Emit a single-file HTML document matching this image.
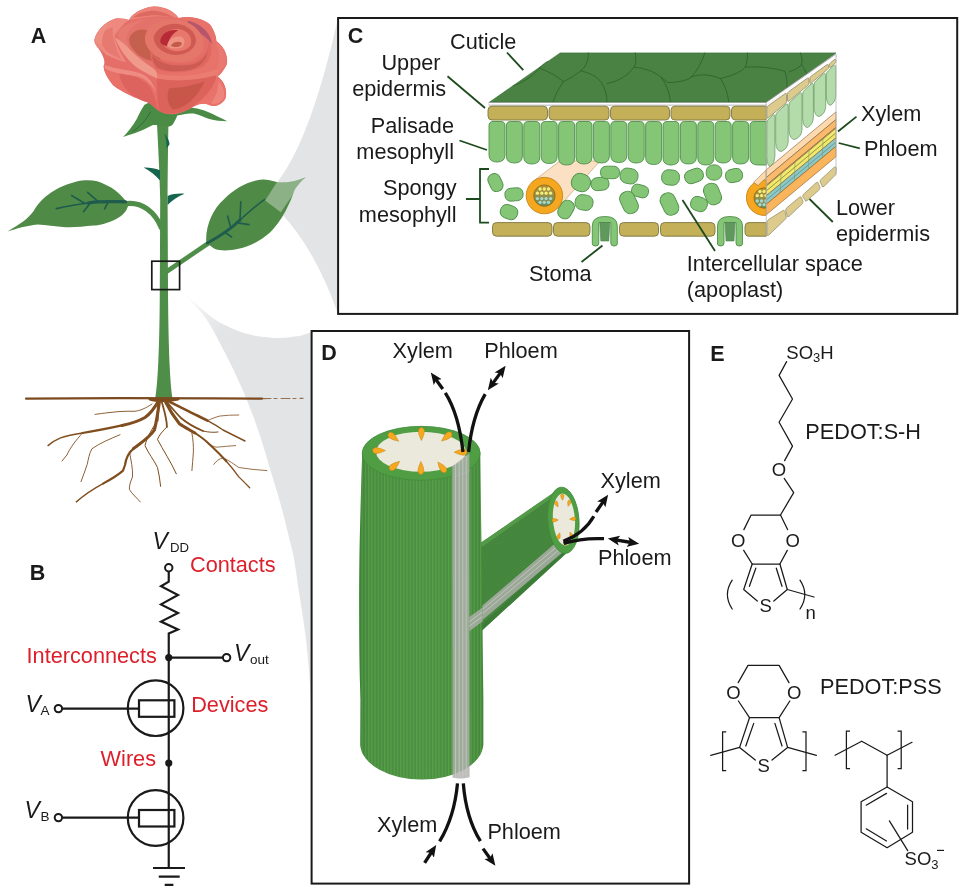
<!DOCTYPE html>
<html><head><meta charset="utf-8"><title>Figure</title>
<style>
html,body{margin:0;padding:0;background:#fff;}
svg{display:block;will-change:transform;}
text{font-family:"Liberation Sans",sans-serif;fill:#1a1a1a;}
.l{font-size:21.7px;}
.b{font-size:21.5px;font-weight:bold;}
.r{fill:#dc1f2a;}
.i{font-style:italic;}
.v{font-style:italic;font-size:23px;}
.ch{font-size:18.5px;}
</style></head><body>
<svg width="960" height="892" viewBox="0 0 960 892">
<rect width="960" height="892" fill="#ffffff"/>
<!-- cones -->
<defs>
<linearGradient id="coneFade" gradientUnits="userSpaceOnUse" x1="180" y1="290" x2="222" y2="332">
 <stop offset="0" stop-color="#e3e4e6" stop-opacity="0"/><stop offset="0.35" stop-color="#e3e4e6" stop-opacity="0.45"/><stop offset="1" stop-color="#e3e4e6" stop-opacity="1"/>
</linearGradient>
</defs>
<!-- upper cone -->
<path d="M278.5 180.4 Q311.3 137.3 338 18 L338 313.8 Q314.8 248.4 280.5 212.4 L265.2 200.4 Z" fill="#e3e4e6"/>
<!-- lower cone -->
<path d="M180 290 C183.1 292.7 191.9 300.7 198.3 306.0 C204.7 311.3 210.3 317.0 218.5 321.7 C226.7 326.4 238.3 331.3 247.6 334.0 C256.9 336.7 266.3 337.5 274.5 337.9 C282.7 338.3 290.8 337.2 297.0 336.3 C303.2 335.4 309.1 332.9 311.5 332.2 L311.5 709 C311.1 702.8 310.1 684.2 309.1 671.8 C308.1 659.4 306.9 646.9 305.4 634.5 C303.8 622.1 301.7 609.7 299.8 597.3 C297.9 584.9 295.9 569.7 294.2 560.0 C292.5 550.3 291.6 548.1 289.4 539.0 C287.2 529.9 284.1 516.6 281.0 505.4 C277.9 494.2 274.3 483.0 270.9 471.8 C267.5 460.6 264.7 449.8 260.8 438.0 C256.9 426.2 251.8 412.2 247.3 401.0 C242.8 389.8 238.4 380.3 233.9 370.8 C229.4 361.3 224.9 352.3 220.4 343.9 C215.9 335.5 211.5 327.0 207.0 320.3 C202.5 313.6 198.0 308.6 193.5 303.5 C189.0 298.4 182.2 292.2 180.0 290.0Z" fill="url(#coneFade)"/>

<!-- a -->
<g id="panelA">
<text class="b" x="30.8" y="43.4">A</text>
<defs>
 <filter id="bl1" x="-20%" y="-20%" width="140%" height="140%"><feGaussianBlur stdDeviation="1.6"/></filter>
 <filter id="bl2" x="-20%" y="-20%" width="140%" height="140%"><feGaussianBlur stdDeviation="0.8"/></filter>
 <clipPath id="leafRClip"><path d="M206.3 242.8 C205 227 212.5 209 224 199.2 C234 189 249 180.6 262.5 179.6 C270 179.2 275 182.5 281 182.6 C290 182.6 298 180.5 305.6 177.2 C301 181 297 186 294.6 189.8 C292.5 196 290.5 201.5 287 208 C283.5 215.5 278 224.5 270 232.5 C261 240.5 249.5 246.8 238.5 248.8 C229 251 220 251.2 214 248.5Z"/></clipPath>
</defs>
<!-- petioles & stem -->
<g fill="none" stroke="#4f8e48" stroke-linecap="round">
 <path d="M127 203.6 C142 202 155 212 161.5 228" stroke-width="5.2"/>
 <path d="M166 272 L208 243.5" stroke-width="4.6"/>
</g>
<path d="M157 124 L168.4 124 C168 150 167.6 180 167.6 200 L168 290 C168.4 340 169.5 380 172.6 399 L155.2 399 C158.4 380 159.6 340 159.8 290 L160.2 200 C159.6 170 158 145 157 124Z" fill="#4f8e48"/>
<!-- thorns -->
<g fill="#15654f">
 <path d="M164.4 133.5 C167.5 137 169.4 141 169.6 144.2 L166.6 148.4 C166.8 143 165.8 138 164.4 133.5Z"/>
 <path d="M143.6 167.6 C149 167.4 155 168.2 160 170.2 L160 180.4 C155.5 175.5 150 170.8 143.6 167.6Z"/>
 <path d="M184.6 193.8 C179 193.2 172.5 194 167.6 196 L167.6 205 C172 200.5 177.5 196.6 184.6 193.8Z"/>
</g>
<!-- left leaf -->
<path d="M7.5 231.6 C20 224 28 219 34 210.5 C40 200 52 188 75 181.9 C88 179 98 180.5 104 184 C114 188 122 195 128.4 204.6 C127 212 122 216 116.2 219 C108 223 100 225.5 93.7 225.6 C84 226.5 72 227.8 65.6 227.2 C55 226.5 46 224.5 37.5 224.4 C27 225.5 16 228.5 7.5 231.6Z" fill="#4f8b46"/>
<g fill="none" stroke="#1f5c4e" stroke-linecap="round">
 <path d="M125.6 201.8 C110 201.6 98 201 88 203" stroke-width="3.2"/>
 <path d="M88 203 C76 204.5 66 206.5 56.3 208.6" stroke-width="1.7"/>
 <path d="M97 200.6 L87.6 192.4 M85 203.6 L71.6 195.6" stroke-width="1.7"/>
 <path d="M108 202.4 L104.6 208.8 M90 203.4 L83.6 211.6" stroke-width="1.7"/>
</g>
<!-- right leaf -->
<path d="M206.3 242.8 C205 227 212.5 209 224 199.2 C234 189 249 180.6 262.5 179.6 C270 179.2 275 182.5 281 182.6 C290 182.6 298 180.5 305.6 177.2 C301 181 297 186 294.6 189.8 C292.5 196 290.5 201.5 287 208 C283.5 215.5 278 224.5 270 232.5 C261 240.5 249.5 246.8 238.5 248.8 C229 251 220 251.2 214 248.5Z" fill="#4f8b46"/>
<g fill="none" stroke="#1f5c4e" stroke-linecap="round">
 <path d="M207.5 243 C222 235 232 228 240 220" stroke-width="3"/>
 <path d="M240 220 C250 211 258 204 264.4 199.6" stroke-width="1.6"/>
 <path d="M230.6 227.2 L227.6 216 M240 219.6 L240.8 201.8" stroke-width="1.6"/>
 <path d="M224.6 232 L231.6 237 M236 222.6 L249 224.6" stroke-width="1.6"/>
</g>
<g clip-path="url(#leafRClip)"><path d="M265.2 200.4 L277.2 181.8 L310 170 L280.8 212.2Z" fill="#e4e6e2" opacity="0.42"/></g>
<!-- calyx -->
<path d="M144.5 104.8 C141 110 139 114 137 118.6 C133 126 128 132 123.1 136.9 C129 134.6 134 133.4 139 131.4 C144 129.6 149 127 153 125 L157 125 L168 126.8 C171 126.4 172.6 125 173.4 123.6 C175 120.6 176.6 118 177.3 115.6 C183 114 188 113.4 193.8 113.4 C200 115 204.6 117.6 209.4 118.9 C215 120.4 221 121 227.3 121.3 C221 118 214 114.6 208 112 C203 110 198.6 108.6 193.8 108 L177 106 L150 102Z" fill="#4a8b45"/>
<path d="M150.4 112 C146 120 140 127 133 131" fill="none" stroke="#2e6e3c" stroke-width="1" stroke-linecap="round"/>
<!-- flower -->
<g transform="translate(88 0) scale(0.15625)">
<defs>
 <filter id="rb" x="-10%" y="-10%" width="120%" height="120%"><feGaussianBlur stdDeviation="4"/></filter>
 <filter id="rb2" x="-10%" y="-10%" width="120%" height="120%"><feGaussianBlur stdDeviation="9"/></filter>
 <clipPath id="roseClip"><path d="M40 255 C55 195 110 140 170 120 C200 112 240 120 262 128 C285 85 340 52 420 40 C500 42 555 78 580 115 C640 100 725 112 780 155 C812 200 822 240 822 262 C870 300 897 350 890 410 C870 450 848 478 830 490 C870 520 894 570 880 630 C856 672 810 690 770 670 C748 660 715 662 680 680 C640 705 590 730 540 733 C500 733 470 722 440 700 C420 682 400 664 380 655 C300 625 220 592 160 545 C118 492 98 450 100 420 C112 395 100 365 80 330 C60 300 38 280 40 255Z"/></clipPath>
</defs>
<g clip-path="url(#roseClip)">
 <rect x="0" y="0" width="960" height="768" fill="#e56e68"/>
 <g filter="url(#rb)">
  <!-- outer-left petal -->
  <path d="M40 255 C55 195 110 140 170 120 C200 115 240 122 262 128 C230 150 190 190 170 235 C180 290 215 350 245 400 C200 385 150 365 115 350 C85 320 45 290 40 255Z" fill="#ed897f"/>
  <path d="M80 230 C100 200 130 180 160 175 C150 220 170 300 215 380 C170 360 130 340 110 320 C95 295 80 265 80 230Z" fill="#e67a71"/>
  <path d="M45 250 C60 205 100 160 150 135 C110 180 85 230 90 290 C70 280 50 268 45 250Z" fill="#ee8f84"/>
  <!-- lower-left petal -->
  <path d="M100 420 C150 440 260 450 330 470 C400 500 440 580 455 715 C420 690 400 665 380 655 C300 625 220 592 160 545 C118 492 98 450 100 420Z" fill="#e8716b"/>
  <path d="M200 470 C280 480 360 500 400 560 C430 620 440 670 450 712 C400 670 330 640 270 600 C230 560 205 515 200 470Z" fill="#dd645e"/>
  <path d="M105 415 C160 440 260 448 335 468 C390 490 425 540 440 600 C410 540 370 505 320 490 C250 475 160 470 110 440Z" fill="#ee8b82"/>
  <!-- inside-left petal -->
  <path d="M170 235 C190 180 260 135 340 120 C400 108 470 112 520 125 C440 140 390 180 370 240 C380 320 420 380 480 420 C420 440 340 420 300 400 C240 350 185 295 170 235Z" fill="#e3736a"/>
  <path d="M262 250 C280 200 330 178 380 195 C385 260 420 330 470 385 C430 400 365 385 322 352 C290 322 262 290 262 250Z" fill="#c5604f"/>
  <path d="M190 200 C230 160 300 135 360 128 C300 150 255 190 245 240 C250 290 275 340 310 385 C260 345 215 295 195 250Z" fill="#e77a70"/>
  <!-- top petal -->
  <path d="M262 128 C285 85 340 52 420 40 C500 42 555 78 580 115 C540 108 480 100 420 105 C360 110 300 122 262 128Z" fill="#ec8278"/>
  <path d="M290 110 C330 80 390 65 440 70 C490 78 530 98 555 115 C500 100 440 95 390 100 C350 104 315 110 290 110Z" fill="#dd6a61"/>
  <!-- right petal -->
  <path d="M580 115 C640 100 725 112 780 155 C812 200 822 240 822 262 C870 300 897 350 890 410 C870 450 848 478 800 500 C720 525 600 530 450 475 C560 475 680 450 760 400 C800 350 800 280 770 220 C730 160 650 130 580 115Z" fill="#e8736b"/>
  <path d="M640 132 C725 150 790 215 795 285 C765 240 715 205 650 180 C640 165 636 148 640 132Z" fill="#b7566b"/>
  <path d="M822 270 C862 305 885 350 880 405 C860 445 835 470 800 488 C835 440 845 380 835 330Z" fill="#ea7a71"/>
  <!-- ring 1 -->
  <path d="M365 230 C380 170 450 130 540 125 C640 125 720 180 740 260 C750 330 700 380 620 395 C530 405 440 380 400 330 C375 300 360 265 365 230Z" fill="#e5766b"/>
  <path d="M420 235 C440 180 500 152 560 152 C630 156 690 200 692 262 C682 322 620 352 560 352 C480 346 420 300 420 235Z" fill="#cf5a52"/>
  <path d="M470 250 C480 210 530 182 580 186 C640 196 672 240 656 290 C630 332 560 336 520 316 C480 296 465 275 470 250Z" fill="#e8776c"/>
  <path d="M462 265 C468 212 520 185 578 194 C542 216 517 246 508 296 C484 290 462 280 462 265Z" fill="#b82c34"/>
  <path d="M506 292 C516 250 550 226 600 236 C626 250 620 290 596 306 C560 316 520 310 506 292Z" fill="#ef9485"/>
  <path d="M530 292 C545 266 580 260 602 276 C596 302 556 308 530 292Z" fill="#c25c48"/>
  <!-- band below ring -->
  <path d="M400 330 C440 400 560 422 680 396 C740 372 770 322 770 262 C800 300 792 380 742 422 C650 472 520 472 440 442 C410 412 395 370 400 330Z" fill="#df6860"/>
  <path d="M410 350 C450 410 560 435 680 410 C720 395 750 370 765 330 C760 385 720 425 660 445 C570 465 480 455 440 430 C420 405 412 378 410 350Z" fill="#cc5b53"/>
  <!-- fold highlight -->
  <path d="M172 240 C195 300 240 372 300 422 C340 452 400 482 442 502 C456 482 440 455 410 432 C360 400 300 350 262 310 C232 280 200 255 172 240Z" fill="#f09a8c"/>
  <!-- front rim -->
  <path d="M440 470 C560 500 700 490 830 440 C835 460 832 478 826 492 C700 530 560 535 442 505Z" fill="#ea7c72"/>
  <!-- front lower petal -->
  <path d="M440 502 C560 525 700 515 822 482 C810 560 740 640 640 700 C580 730 500 736 455 712 C440 640 445 560 440 502Z" fill="#dc625c"/>
  <path d="M520 565 C600 562 680 545 745 520 C705 620 625 690 545 702 C500 662 505 602 520 565Z" fill="#c8574a"/>
  <!-- right lower petal -->
  <path d="M830 490 C870 520 894 570 880 630 C856 672 810 690 770 670 C742 660 705 665 660 692 C740 642 800 572 830 490Z" fill="#e9726b"/>
  <path d="M835 520 C865 550 878 590 868 630 C845 660 815 672 785 660 C820 620 835 570 835 520Z" fill="#ee857b"/>
 </g>
</g>
</g>

<!-- ground + roots -->
<g fill="none" stroke="#7b4a1f" stroke-linecap="round" stroke-linejoin="round">
 <path d="M26 398.6 L120 398.2 L215 398.4 L262 398.6" stroke-width="2.3"/>
 <path d="M262 398.6 L303 398.4" stroke-width="1.1" stroke-dasharray="9 3 3 4" opacity="0.75"/>
 <path d="M150 399 C156 401 168 401 178 399" stroke-width="3"/>
 <g stroke="#7f4d1e">
 <path d="M158.5 401 C154 409 150 414 145 417.5 C138 421.5 130 423.8 122 425.4" stroke-width="3.1"/>
 <path d="M122 425.4 C110 428 96 430.8 82.5 433" stroke-width="2.2"/>
 <path d="M82.5 433 C74 434.5 66 436 60.6 437.8 C55 440 51 443 48 445.6" stroke-width="1.4"/>
 <path d="M82.5 433 C76 440 70 448 66.9 455 L62 461" stroke-width="0.9"/>
 <path d="M159.5 401 C158 412 156.5 422 154.4 430 C150 437 141 443 133.5 448.6" stroke-width="3.1"/>
 <path d="M133.5 448.6 C129.4 451.9 126 458 125 465 L123 470.6 C117 476 110 479.8 103 483.6" stroke-width="2.2"/>
 <path d="M103 483.6 C93 489 83 496 76.3 501.9" stroke-width="1.4"/>
 <path d="M129.4 451.9 C131 460 133 469 132.5 476.9 C131 481 129 485 129.4 489.4 C132 494 137 498 140.3 501.9" stroke-width="0.9"/>
 <path d="M120 434.7 C110 439 100 443 91.9 448.8 C89 454 88.5 459 87.2 464.4 C85.5 470 83 476 81 481.6" stroke-width="0.9"/>
 <path d="M158.5 404 C157.5 410 158 416 157.5 420.6" stroke-width="2"/>
 <path d="M157.5 420.6 C152 429 147 437 145 445.6 C148 453 154 460 157.5 467.5 C159 474 160 480 160.6 486.3" stroke-width="1"/>
 <path d="M161.5 401 C164 410 167 419 166.9 426.9" stroke-width="1.8"/>
 <path d="M166.9 426.9 C163 431 159 435 157.5 439.4 C163 450 171 462 176.3 473.8" stroke-width="1"/>
 <path d="M165 401 C169 409 174 417 179.4 423.8 C184 427 190 430 195 433" stroke-width="3"/>
 <path d="M195 433 C199.5 436 204 439 207.5 442.5 C214 448.5 221 455 226.3 461.3" stroke-width="2.1"/>
 <path d="M226.3 461.3 C231 466.5 235 471.5 238.8 476.9 C242.5 480.5 246.5 484.5 249.7 487.8" stroke-width="1.3"/>
 <path d="M167 400.5 C174 404 182 408 188.8 411.3 C195 414.5 201.5 417.5 207.5 420.6" stroke-width="2.6"/>
 <path d="M207.5 420.6 C213 423.5 218 426.5 223 430 C230 433.5 238 437.5 245 441" stroke-width="1.4"/>
 <path d="M166 401 C171 407 176 413 181 418 C188 424 196 428 203 431" stroke-width="1.8"/>
 <path d="M203 431 C209 432.5 214 432.5 218 432" stroke-width="1"/>
 <path d="M207.5 420.6 C212 418.5 216 417 220 416 C226 415.2 233 415 238.8 415" stroke-width="0.8"/>
 <path d="M191.9 433 C193 439 193.6 446 193.4 451.9 C193 458 192.4 465 191.9 470.6" stroke-width="0.9"/>
 <path d="M152 404 C146 408 140 411 134 411.3 C126 411 118 411.5 110 412.5 C104 413.2 99 413.8 95 414.4" stroke-width="0.9"/>
 <path d="M213.8 464.4 C216 461 219.5 458.5 223 458 C229 460 234 464.5 238.8 467.5 C248 469 258 470 266.9 470.6" stroke-width="0.8"/>
 <path d="M207.5 442.5 C211 445.5 214 447 216.9 447.2 C223 446.5 230 446 235.6 445.6" stroke-width="0.8"/>
 </g>
</g>
<!-- selection box -->
<rect x="151.8" y="261.2" width="27.8" height="28.4" fill="none" stroke="#1a1a1a" stroke-width="1.7"/>
</g>

<!-- b -->
<g id="panelB">
<text class="b" x="29.7" y="579.5">B</text>
<g fill="none" stroke="#1a1a1a" stroke-width="2.2" stroke-linejoin="miter">
  <!-- main wire -->
  <path d="M168.75 571.5 V581.6 L161 586.2 L178 595 L161 604.4 L178 613.1 L161 621.6 L178 629.4 L168.75 633.5 V868"/>
  <path d="M168.75 657.6 H223"/>
  <path d="M62 708.6 H139"/>
  <path d="M62 817.6 H139"/>
  <circle cx="155.6" cy="708.2" r="27.8"/>
  <circle cx="155.6" cy="818" r="27.8"/>
  <rect x="139" y="700.3" width="35.4" height="16.5"/>
  <rect x="139" y="810" width="35.4" height="16.5"/>
  <path d="M153 868 H185 M158.75 876.6 H179.7 M164.7 884.8 H173.4"/>
</g>
<g fill="#fff" stroke="#1a1a1a" stroke-width="2">
  <circle cx="168.75" cy="567.8" r="3.7"/>
  <circle cx="226.6" cy="657.6" r="3.7"/>
  <circle cx="58.4" cy="708.6" r="3.7"/>
  <circle cx="58.4" cy="817.6" r="3.7"/>
</g>
<circle cx="168.75" cy="657.6" r="3.6" fill="#1a1a1a"/>
<circle cx="168.75" cy="763.1" r="3.6" fill="#1a1a1a"/>
<text class="v" x="152.6" y="549">V</text><text x="170" y="552.2" font-size="13.2">DD</text>
<text class="v" x="234" y="661.4">V</text><text x="250" y="664.2" font-size="13.5">out</text>
<text class="v" x="25.4" y="712">V</text><text x="40.6" y="715.4" font-size="13.5">A</text>
<text class="v" x="24.4" y="817.6">V</text><text x="40.6" y="821.2" font-size="13.5">B</text>
<text class="l r" x="190" y="571.6">Contacts</text>
<text class="l r" x="26.6" y="663">Interconnects</text>
<text class="l r" x="191.2" y="712">Devices</text>
<text class="l r" x="100.6" y="765.5">Wires</text>
</g>

<!-- c -->
<g id="panelC">
<rect x="338.1" y="18" width="619.1" height="295.9" fill="#fff" stroke="#1a1a1a" stroke-width="2"/>
<text class="b" x="347.8" y="43.4">C</text>
<path d="M531.5 182.5 L560 161 L600 161 L557.5 208.5 Z" fill="#fce0c4" stroke="#c9a27a" stroke-width="0.7"/>
<path d="M489.4 102.2 L560.2 52.9 L836 52.9 L766.3 102.2 Z" fill="#4a8244" stroke="#2f6a2e" stroke-width="0.6"/>
<g fill="none" stroke="#2b6128" stroke-width="0.8" stroke-linecap="round">
<path d="M539.4 68.1 Q555 74 563.3 81.7 Q556 92 552.9 102"/>
<path d="M588.3 52.9 Q589 64 581 70.8 Q572 78 563.3 81.7"/>
<path d="M581 70.8 Q595 74 600.8 81.7 Q607 91 607 102"/>
<path d="M635.2 52.9 Q637 62 634.2 67 Q625 80 607 83.7"/>
<path d="M634.2 67 Q652 69 661.3 77.5 Q669 88 670.6 102"/>
<path d="M661.3 77.5 Q666 81 668 82.7 Q685 82 691 77.5 Q700 68 704.8 53"/>
<path d="M691 76.8 Q705 72 720.4 78.5 Q727 88 728.8 102"/>
<path d="M720.4 78.5 Q740 74 745.4 67 Q748 60 747.5 53"/>
<path d="M745.4 67 Q768 66 785 71.3 Q788 80 787 88"/>
<path d="M800.6 53 Q803 60 801.7 65 Q796 70 789 72"/>
<path d="M801.7 65 Q805 69 806.5 73.5"/>
<path d="M513 86 Q530 80 539.4 68.1 Q545 62 548 61.5"/>
</g>
<path d="M488.6 103.9 L766.3 103.9 L836 55.4" fill="none" stroke="#9b9b9b" stroke-width="3.2" stroke-linejoin="miter"/>
<path d="M488.6 103.9 L766.3 103.9 L836 55.4" fill="none" stroke="#ffffff" stroke-width="1.8" stroke-linejoin="miter"/>
<path d="M766.3 105 L836 55.7 L836 174 L766.3 236.3 Z" fill="#fff"/>
<rect x="488" y="106.2" width="59.5" height="13.8" rx="4" ry="4" fill="#c3b058" stroke="#7d7742" stroke-width="0.9"/>
<rect x="549" y="106.2" width="60" height="13.8" rx="4" ry="4" fill="#c3b058" stroke="#7d7742" stroke-width="0.9"/>
<rect x="610.5" y="106.2" width="59.0" height="13.8" rx="4" ry="4" fill="#c3b058" stroke="#7d7742" stroke-width="0.9"/>
<rect x="671" y="106.2" width="59" height="13.8" rx="4" ry="4" fill="#c3b058" stroke="#7d7742" stroke-width="0.9"/>
<path d="M735.5 106.2 H766.3 V120 H735.5 Q731.5 120 731.5 116 V110 Q731.5 106.2 735.5 106.2Z" fill="#c3b058" stroke="#7d7742" stroke-width="0.9"/>
<path d="M493.0 121.5 H501.0 Q505.0 121.5 505.0 126 V155 Q505.0 162 497.0 162 Q489.0 162 489.0 155 V126 Q489.0 121.5 493.0 121.5Z" fill="#84c676" stroke="#4f8f4a" stroke-width="0.9"/>
<path d="M510.4 121.5 H518.4 Q522.4 121.5 522.4 126 V156 Q522.4 163 514.4 163 Q506.4 163 506.4 156 V126 Q506.4 121.5 510.4 121.5Z" fill="#84c676" stroke="#4f8f4a" stroke-width="0.9"/>
<path d="M527.8 121.5 H535.8 Q539.8 121.5 539.8 126 V157 Q539.8 164 531.8 164 Q523.8 164 523.8 157 V126 Q523.8 121.5 527.8 121.5Z" fill="#84c676" stroke="#4f8f4a" stroke-width="0.9"/>
<path d="M545.2 121.5 H553.2 Q557.2 121.5 557.2 126 V156.5 Q557.2 163.5 549.2 163.5 Q541.2 163.5 541.2 156.5 V126 Q541.2 121.5 545.2 121.5Z" fill="#84c676" stroke="#4f8f4a" stroke-width="0.9"/>
<path d="M562.6 121.5 H570.6 Q574.6 121.5 574.6 126 V158 Q574.6 165 566.6 165 Q558.6 165 558.6 158 V126 Q558.6 121.5 562.6 121.5Z" fill="#84c676" stroke="#4f8f4a" stroke-width="0.9"/>
<path d="M580.0 121.5 H588.0 Q592.0 121.5 592.0 126 V157 Q592.0 164 584.0 164 Q576.0 164 576.0 157 V126 Q576.0 121.5 580.0 121.5Z" fill="#84c676" stroke="#4f8f4a" stroke-width="0.9"/>
<path d="M597.4 121.5 H605.4 Q609.4 121.5 609.4 126 V156 Q609.4 163 601.4 163 Q593.4 163 593.4 156 V126 Q593.4 121.5 597.4 121.5Z" fill="#84c676" stroke="#4f8f4a" stroke-width="0.9"/>
<path d="M614.8 121.5 H622.8 Q626.8 121.5 626.8 126 V155.5 Q626.8 162.5 618.8 162.5 Q610.8 162.5 610.8 155.5 V126 Q610.8 121.5 614.8 121.5Z" fill="#84c676" stroke="#4f8f4a" stroke-width="0.9"/>
<path d="M632.2 121.5 H640.2 Q644.2 121.5 644.2 126 V156 Q644.2 163 636.2 163 Q628.2 163 628.2 156 V126 Q628.2 121.5 632.2 121.5Z" fill="#84c676" stroke="#4f8f4a" stroke-width="0.9"/>
<path d="M649.6 121.5 H657.6 Q661.6 121.5 661.6 126 V157.5 Q661.6 164.5 653.6 164.5 Q645.6 164.5 645.6 157.5 V126 Q645.6 121.5 649.6 121.5Z" fill="#84c676" stroke="#4f8f4a" stroke-width="0.9"/>
<path d="M667.0 121.5 H675.0 Q679.0 121.5 679.0 126 V158 Q679.0 165 671.0 165 Q663.0 165 663.0 158 V126 Q663.0 121.5 667.0 121.5Z" fill="#84c676" stroke="#4f8f4a" stroke-width="0.9"/>
<path d="M684.4 121.5 H692.4 Q696.4 121.5 696.4 126 V157 Q696.4 164 688.4 164 Q680.4 164 680.4 157 V126 Q680.4 121.5 684.4 121.5Z" fill="#84c676" stroke="#4f8f4a" stroke-width="0.9"/>
<path d="M701.8 121.5 H709.8 Q713.8 121.5 713.8 126 V158 Q713.8 165 705.8 165 Q697.8 165 697.8 158 V126 Q697.8 121.5 701.8 121.5Z" fill="#84c676" stroke="#4f8f4a" stroke-width="0.9"/>
<path d="M719.2 121.5 H727.2 Q731.2 121.5 731.2 126 V156 Q731.2 163 723.2 163 Q715.2 163 715.2 156 V126 Q715.2 121.5 719.2 121.5Z" fill="#84c676" stroke="#4f8f4a" stroke-width="0.9"/>
<path d="M736.6 121.5 H744.6 Q748.6 121.5 748.6 126 V157 Q748.6 164 740.6 164 Q732.6 164 732.6 157 V126 Q732.6 121.5 736.6 121.5Z" fill="#84c676" stroke="#4f8f4a" stroke-width="0.9"/>
<path d="M754.0 121.5 H766.3 V165 H758.0 Q750.0 165 750.0 158 V126 Q750.0 121.5 754.0 121.5Z" fill="#84c676" stroke="#4f8f4a" stroke-width="0.9"/>
<rect x="489.2" y="173.4" width="12.5" height="18.2" rx="5.6" ry="5.6" transform="rotate(-25 495.5 182.5)" fill="#84c676" stroke="#4f8f4a" stroke-width="0.9"/>
<rect x="504.9" y="188.0" width="18.2" height="12.9" rx="5.8" ry="5.8" transform="rotate(-5 514 194.5)" fill="#84c676" stroke="#4f8f4a" stroke-width="0.9"/>
<rect x="500.3" y="205.2" width="17.5" height="13.7" rx="6.2" ry="6.2" transform="rotate(20 509 212)" fill="#84c676" stroke="#4f8f4a" stroke-width="0.9"/>
<rect x="559.2" y="200.0" width="13.7" height="19.0" rx="6.2" ry="6.2" transform="rotate(30 566 209.5)" fill="#84c676" stroke="#4f8f4a" stroke-width="0.9"/>
<rect x="575.1" y="194.9" width="17.9" height="15.2" rx="6.8" ry="6.8" transform="rotate(10 584 202.5)" fill="#84c676" stroke="#4f8f4a" stroke-width="0.9"/>
<rect x="571.5" y="173.8" width="19.0" height="17.5" rx="7.9" ry="7.9" transform="rotate(20 581 182.5)" fill="#84c676" stroke="#4f8f4a" stroke-width="0.9"/>
<rect x="591.1" y="177.5" width="17.9" height="12.9" rx="5.8" ry="5.8" transform="rotate(-5 600 184)" fill="#84c676" stroke="#4f8f4a" stroke-width="0.9"/>
<rect x="600.5" y="166.2" width="19.0" height="12.5" rx="5.6" ry="5.6" transform="rotate(0 610 172.5)" fill="#84c676" stroke="#4f8f4a" stroke-width="0.9"/>
<rect x="620.1" y="168.4" width="17.9" height="15.2" rx="6.8" ry="6.8" transform="rotate(10 629 176)" fill="#84c676" stroke="#4f8f4a" stroke-width="0.9"/>
<rect x="631.5" y="184.9" width="17.1" height="12.2" rx="5.5" ry="5.5" transform="rotate(15 640 191)" fill="#84c676" stroke="#4f8f4a" stroke-width="0.9"/>
<rect x="621.4" y="191.1" width="15.2" height="22.8" rx="6.8" ry="6.8" transform="rotate(-25 629 202.5)" fill="#84c676" stroke="#4f8f4a" stroke-width="0.9"/>
<rect x="661.6" y="169.9" width="17.9" height="15.2" rx="6.8" ry="6.8" transform="rotate(5 670.5 177.5)" fill="#84c676" stroke="#4f8f4a" stroke-width="0.9"/>
<rect x="661.9" y="192.6" width="15.2" height="22.8" rx="6.8" ry="6.8" transform="rotate(-25 669.5 204)" fill="#84c676" stroke="#4f8f4a" stroke-width="0.9"/>
<rect x="684.5" y="169.3" width="19.0" height="13.3" rx="6.0" ry="6.0" transform="rotate(-20 694 176)" fill="#84c676" stroke="#4f8f4a" stroke-width="0.9"/>
<rect x="690.6" y="197.0" width="16.7" height="14.1" rx="6.3" ry="6.3" transform="rotate(20 699 204)" fill="#84c676" stroke="#4f8f4a" stroke-width="0.9"/>
<rect x="706.2" y="164.9" width="15.6" height="15.2" rx="6.8" ry="6.8" transform="rotate(0 714 172.5)" fill="#84c676" stroke="#4f8f4a" stroke-width="0.9"/>
<rect x="704.9" y="183.1" width="15.2" height="21.8" rx="6.8" ry="6.8" transform="rotate(-22 712.5 194)" fill="#84c676" stroke="#4f8f4a" stroke-width="0.9"/>
<rect x="725.5" y="168.9" width="17.1" height="13.3" rx="6.0" ry="6.0" transform="rotate(-12 734 175.6)" fill="#84c676" stroke="#4f8f4a" stroke-width="0.9"/>
<defs><linearGradient id="bgr" x1="0" x2="0" y1="0" y2="1"><stop offset="0" stop-color="#b8922e"/><stop offset="0.5" stop-color="#93904a"/><stop offset="1" stop-color="#668c5c"/></linearGradient></defs>
<circle cx="544.4" cy="195.6" r="18.2" fill="#f6a720" stroke="#c48318" stroke-width="0.9"/>
<circle cx="544.4" cy="195.6" r="10.7" fill="url(#bgr)" stroke="#8f6c1a" stroke-width="0.9"/>
<circle cx="540.1" cy="189.0" r="1.65" fill="#f6ef80"/>
<circle cx="544.3" cy="189.0" r="1.65" fill="#f6ef80"/>
<circle cx="548.5" cy="189.0" r="1.65" fill="#f6ef80"/>
<circle cx="537.4" cy="193.2" r="1.65" fill="#f6ef80"/>
<circle cx="541.8" cy="193.2" r="1.65" fill="#f6ef80"/>
<circle cx="546.1" cy="193.2" r="1.65" fill="#f6ef80"/>
<circle cx="550.6" cy="193.2" r="1.65" fill="#f6ef80"/>
<circle cx="537.4" cy="198.6" r="1.65" fill="#a4d8d4"/>
<circle cx="541.8" cy="198.6" r="1.65" fill="#a4d8d4"/>
<circle cx="546.1" cy="198.6" r="1.65" fill="#a4d8d4"/>
<circle cx="550.6" cy="198.6" r="1.65" fill="#a4d8d4"/>
<circle cx="540.1" cy="202.3" r="1.65" fill="#a4d8d4"/>
<circle cx="544.3" cy="202.3" r="1.65" fill="#a4d8d4"/>
<circle cx="548.5" cy="202.3" r="1.65" fill="#a4d8d4"/>
<rect x="492.5" y="222.6" width="59.5" height="13.6" rx="4" ry="4" fill="#c3b058" stroke="#7d7742" stroke-width="0.9"/>
<rect x="553.5" y="222.6" width="36.5" height="13.6" rx="4" ry="4" fill="#c3b058" stroke="#7d7742" stroke-width="0.9"/>
<rect x="619.5" y="222.6" width="39.0" height="13.6" rx="4" ry="4" fill="#c3b058" stroke="#7d7742" stroke-width="0.9"/>
<rect x="660.5" y="222.6" width="54.5" height="13.6" rx="4" ry="4" fill="#c3b058" stroke="#7d7742" stroke-width="0.9"/>
<path d="M749 222.6 H766.3 V236.2 H749 Q745 236.2 745 232 V226.6 Q745 222.6 749 222.6Z" fill="#c3b058" stroke="#7d7742" stroke-width="0.9"/>
<path d="M592.3 244 V226 Q592.3 216.5 604.8 216.5 Q617.3 216.5 617.3 226 V244 Q617.3 246 613.8 246 Q610.8 246 610.8 243 V222.5 H598.8 V243 Q598.8 246 595.8 246 Q592.3 246 592.3 244Z" fill="#84c676" stroke="#4f8f4a" stroke-width="0.9"/>
<path d="M599.8 222.5 H609.8 L608.8 241 H600.8Z" fill="#5f9a5c" stroke="#4b7f4a" stroke-width="0.6"/>
<path d="M717.5 244 V226 Q717.5 216.5 730.0 216.5 Q742.5 216.5 742.5 226 V244 Q742.5 246 739.0 246 Q736.0 246 736.0 243 V222.5 H724.0 V243 Q724.0 246 721.0 246 Q717.5 246 717.5 244Z" fill="#84c676" stroke="#4f8f4a" stroke-width="0.9"/>
<path d="M725.0 222.5 H735.0 L734.0 241 H726.0Z" fill="#5f9a5c" stroke="#4b7f4a" stroke-width="0.6"/>
<path d="M766.8 108.7 Q766.8 106.5 768.4 105.6 L785.0 93.7 Q786.6 92.8 786.6 94.4 L786.6 101.2 Q786.6 102.8 785.0 103.9 L768.4 117.7 Q766.8 118.8 766.8 117.2Z" fill="#dccb8d" stroke="#8f8a6a" stroke-width="0.8"/>
<path d="M787.5 94.4 Q787.5 92.2 789.1 91.3 L807.4 78.2 Q809.0 77.3 809.0 78.9 L809.0 83.0 Q809.0 84.6 807.4 85.7 L789.1 100.9 Q787.5 102.0 787.5 100.4Z" fill="#dccb8d" stroke="#8f8a6a" stroke-width="0.8"/>
<path d="M809.9 78.9 Q809.9 76.7 811.5 75.8 L826.9 64.8 Q828.5 63.9 828.5 65.5 L828.5 67.2 Q828.5 68.8 826.9 69.9 L811.5 82.8 Q809.9 83.9 809.9 82.3Z" fill="#dccb8d" stroke="#8f8a6a" stroke-width="0.8"/>
<path d="M829.3 65.5 Q829.3 63.3 830.9 62.4 L834.4 59.6 Q836.0 58.7 836.0 60.3 L836.0 61.1 Q836.0 62.7 834.4 63.8 L830.9 67.1 Q829.3 68.2 829.3 66.6Z" fill="#dccb8d" stroke="#8f8a6a" stroke-width="0.8"/>
<path d="M766.8 123.4 Q766.8 120.4 769.0 118.8 L772.7 115.0 Q774.9 113.8 774.9 116.8 L774.9 156.5 Q774.6 163.5 770.4 166.5 Q767.4 166.5 766.8 157.5Z" fill="#b4dcaa" stroke="#6f9a68" stroke-width="0.8"/>
<path d="M775.7 116.2 Q775.7 113.2 777.9 111.6 L786.0 104.3 Q788.2 103.1 788.2 106.1 L788.2 141.5 Q787.9 148.5 781.3 151.5 Q776.3 151.5 775.7 142.5Z" fill="#b4dcaa" stroke="#6f9a68" stroke-width="0.8"/>
<path d="M789.0 105.4 Q789.0 102.4 791.2 100.8 L799.8 93.1 Q802.0 91.9 802.0 94.9 L802.0 129.5 Q801.7 136.5 794.9 139.5 Q789.6 139.5 789.0 130.5Z" fill="#b4dcaa" stroke="#6f9a68" stroke-width="0.8"/>
<path d="M802.7 94.3 Q802.7 91.3 804.9 89.7 L811.2 83.8 Q813.4 82.6 813.4 85.6 L813.4 117.5 Q813.1 124.5 807.5 127.5 Q803.3 127.5 802.7 118.5Z" fill="#b4dcaa" stroke="#6f9a68" stroke-width="0.8"/>
<path d="M814.0 85.2 Q814.0 82.2 816.2 80.6 L823.5 73.9 Q825.7 72.7 825.7 75.7 L825.7 106.5 Q825.4 113.5 819.3 116.5 Q814.6 116.5 814.0 107.5Z" fill="#b4dcaa" stroke="#6f9a68" stroke-width="0.8"/>
<path d="M826.3 75.2 Q826.3 72.2 828.5 70.6 L833.6 65.7 Q835.8 64.5 835.8 67.5 L835.8 95.2 Q835.5 102.2 830.6 105.2 Q826.9 105.2 826.3 96.2Z" fill="#b4dcaa" stroke="#6f9a68" stroke-width="0.8"/>
<g>
<clipPath id="cutL"><rect x="700" y="150" width="66.3" height="90"/></clipPath>
<g clip-path="url(#cutL)">
<circle cx="764.2" cy="197.6" r="17.8" fill="#f6a720" stroke="#c48318" stroke-width="0.9"/>
<circle cx="764.2" cy="198.0" r="10.2" fill="url(#bgr)" stroke="#8f6c1a" stroke-width="0.9"/>
<circle cx="759.9" cy="191.4" r="1.65" fill="#f6ef80"/>
<circle cx="764.1" cy="191.4" r="1.65" fill="#f6ef80"/>
<circle cx="768.3" cy="191.4" r="1.65" fill="#f6ef80"/>
<circle cx="757.2" cy="195.6" r="1.65" fill="#f6ef80"/>
<circle cx="761.6" cy="195.6" r="1.65" fill="#f6ef80"/>
<circle cx="765.9" cy="195.6" r="1.65" fill="#f6ef80"/>
<circle cx="770.4" cy="195.6" r="1.65" fill="#f6ef80"/>
<circle cx="757.2" cy="201.0" r="1.65" fill="#a4d8d4"/>
<circle cx="761.6" cy="201.0" r="1.65" fill="#a4d8d4"/>
<circle cx="765.9" cy="201.0" r="1.65" fill="#a4d8d4"/>
<circle cx="770.4" cy="201.0" r="1.65" fill="#a4d8d4"/>
<circle cx="759.9" cy="204.7" r="1.65" fill="#a4d8d4"/>
<circle cx="764.1" cy="204.7" r="1.65" fill="#a4d8d4"/>
<circle cx="768.3" cy="204.7" r="1.65" fill="#a4d8d4"/>
</g>
<path d="M753.6 182.2 L766.3 169.8 L766.3 177.5 L758 185.5Z" fill="#fcd9ae" stroke="#6b4a1a" stroke-width="0.4"/>
</g>
<path d="M766.3 169.8 L836 111.8 L836 119.5 L766.3 177.5Z" fill="#fcd9ae" stroke="#6b4a1a" stroke-width="0.5"/>
<path d="M766.3 177.5 L836 119.5 L836 127.2 L766.3 185.2Z" fill="#f9ba6c" stroke="#6b4a1a" stroke-width="0.5"/>
<path d="M766.3 185.2 L836 127.2 L836 128.2 L766.3 186.2Z" fill="#fcd9ae" stroke="#6b4a1a" stroke-width="0.5"/>
<path d="M766.3 186.2 L836 128.2 L836 137.7 L766.3 195.7Z" fill="#f1e96e" stroke="#6b4a1a" stroke-width="0.5"/>
<path d="M766.3 195.7 L836 137.7 L836 146.3 L766.3 204.3Z" fill="#8ec8c4" stroke="#6b4a1a" stroke-width="0.5"/>
<path d="M766.3 204.3 L836 146.3 L836 156.7 L766.3 214.7Z" fill="#f9b45c" stroke="#6b4a1a" stroke-width="0.5"/>
<path d="M766.3 190.9 L836 132.9" stroke="#8c8a3a" stroke-width="0.9" fill="none"/>
<path d="M766.3 200.0 L836 142.0" stroke="#5f9a98" stroke-width="0.9" fill="none"/>
<path d="M781 174.0 L780.4 192.1" stroke="#7f9a6a" stroke-width="0.6" fill="none"/>
<path d="M795 162.3 L794.4 180.4" stroke="#7f9a6a" stroke-width="0.6" fill="none"/>
<path d="M809 150.7 L808.4 168.8" stroke="#7f9a6a" stroke-width="0.6" fill="none"/>
<path d="M823 139.0 L822.4 157.1" stroke="#7f9a6a" stroke-width="0.6" fill="none"/>
<path d="M766.9 222.5 Q766.9 220.5 768.9 219.3 L782.4 210.8 Q784.4 209.4 784.8 211.4 L786.4 216.8 Q786.4 218.8 784.4 220.20000000000002 L768.9 234.9 Q766.9 236.3 766.9 234.3Z" fill="#dccb8d" stroke="#8f8a6a" stroke-width="0.7"/>
<path d="M785.6 210.3 Q785.6 208.3 787.6 207.10000000000002 L799.2 197.4 Q801.2 196 801.6 198 L803 201.6 Q803 203.6 801 205.0 L789.2 216.2 Q787.2 217.6 787.2 215.6Z" fill="#dccb8d" stroke="#8f8a6a" stroke-width="0.7"/>
<path d="M802.6 196.5 Q802.6 194.5 804.6 193.3 L816 182.8 Q818 181.4 818.4 183.4 L820 187.5 Q820 189.5 818 190.9 L807 200.6 Q805 202 805 200Z" fill="#dccb8d" stroke="#8f8a6a" stroke-width="0.7"/>
<path d="M820 181.6 Q820 179.6 822 178.4 L834 167.4 Q836 166 836.4 168 L836 173 Q836 175 834 176.4 L824 186.4 Q822 187.8 822 185.8Z" fill="#dccb8d" stroke="#8f8a6a" stroke-width="0.7"/>
<path d="M766.3 103 V236.3" stroke="#b9b9b9" stroke-width="0.8" fill="none"/>
<path d="M836 54 V175.5" stroke="#b9b9b9" stroke-width="0.8" fill="none"/>
<g stroke="#1d4a1d" stroke-width="1.8" fill="none">
<path d="M507 52.5 L523.3 70.2"/>
<path d="M447.5 76.3 L485 108"/>
<path d="M459.5 140.5 L487 150"/>
<path d="M480 169 V222.6 M479.2 169 H489 M479.2 222.6 H489 M466 199 H480"/>
<path d="M602.5 245.5 L581.5 262"/>
<path d="M682.5 200 L715 251"/>
<path d="M838 131.5 L856.5 116.6"/>
<path d="M838.7 143 L859.8 148.3"/>
<path d="M809.5 199 L832.8 222"/>
</g>
<text class="l" x="450" y="49" text-anchor="start">Cuticle</text>
<text class="l" x="440.5" y="70.3" text-anchor="end">Upper</text>
<text class="l" x="446.2" y="95.5" text-anchor="end">epidermis</text>
<text class="l" x="454" y="132.5" text-anchor="end">Palisade</text>
<text class="l" x="454" y="159.2" text-anchor="end">mesophyll</text>
<text class="l" x="456.5" y="194.5" text-anchor="end">Spongy</text>
<text class="l" x="456.5" y="221.5" text-anchor="end">mesophyll</text>
<text class="l" x="529" y="281.4" text-anchor="start">Stoma</text>
<text class="l" x="686.8" y="270.7" text-anchor="start">Intercellular space</text>
<text class="l" x="686.8" y="296.7" text-anchor="start">(apoplast)</text>
<text class="l" x="861" y="120.7" text-anchor="start">Xylem</text>
<text class="l" x="864" y="156" text-anchor="start">Phloem</text>
<text class="l" x="836" y="214.7" text-anchor="start">Lower</text>
<text class="l" x="836" y="241" text-anchor="start">epidermis</text>
</g>

<!-- d -->
<g id="panelD">
<rect x="311.6" y="331" width="377.5" height="552.6" fill="#fff" stroke="#1a1a1a" stroke-width="2"/>
<text class="b" x="321.2" y="360.4">D</text>
<defs>
<linearGradient id="trunkG" x1="0" x2="1" y1="0" y2="0">
 <stop offset="0" stop-color="#3f8239"/><stop offset="0.08" stop-color="#488c40"/><stop offset="0.5" stop-color="#4c9043"/><stop offset="0.9" stop-color="#498d41"/><stop offset="1" stop-color="#43863b"/>
</linearGradient>
<pattern id="vstr" width="3.2" height="10" patternUnits="userSpaceOnUse"><rect x="0" y="0" width="1.2" height="10" fill="#64ac4e" opacity="0.55"/></pattern>
<pattern id="bstr" width="10" height="2.4" patternUnits="userSpaceOnUse" patternTransform="rotate(-38)"><rect x="0" y="0" width="10" height="0.9" fill="#3c7a34" opacity="0.5"/></pattern>
<marker id="ah" viewBox="0 0 10 10" refX="6" refY="5" markerWidth="3.6" markerHeight="3.6" orient="auto-start-reverse"><path d="M0 0.8 L10 5 L0 9.2 L2.2 5Z" fill="#111"/></marker>
</defs>
<path d="M476 546 L558.2 489.5 L566 553.6 L476 636Z" fill="#47893f"/>
<path d="M476 546 L558.2 489.5 L566 553.6 L476 636Z" fill="url(#bstr)"/>
<path d="M476 546 L558.2 489.5 L553 497 L476 551Z" fill="#58a04c" opacity="0.8"/>
<path d="M476 630 L565 548 L566 553.6 L476 636Z" fill="#3b7b36" opacity="0.9"/>
<path d="M466 619.6 L555 543.5 L562.5 552.5 L466 634Z" fill="#aeb0ac" fill-opacity="0.82"/>
<path d="M466 623.2 L557 546.6 M466 627.3 L559.5 549.4" stroke="#c9ccc6" stroke-width="1" stroke-opacity="0.8" fill="none"/>
<g transform="rotate(-4 563.4 520.3)">
<ellipse cx="563.4" cy="520.3" rx="15.6" ry="33.2" fill="#4f9e43" stroke="#3f8a38" stroke-width="0.8"/>
<ellipse cx="564" cy="519.6" rx="11" ry="26" fill="#ebe9db"/>
<path transform="translate(572.8 519.6) rotate(180)" d="M3.2 0 Q0.3 -1.7 -1.8 -1.7 Q-3.2 -1.2 -3.2 0 Q-3.2 1.2 -1.8 1.7 Q0.3 1.7 3.2 0Z" fill="#f6a81e" stroke="#b97c12" stroke-width="0.4"/>
<path transform="translate(570.2 535.5) rotate(-111)" d="M3.2 0 Q0.3 -1.7 -1.8 -1.7 Q-3.2 -1.2 -3.2 0 Q-3.2 1.2 -1.8 1.7 Q0.3 1.7 3.2 0Z" fill="#f6a81e" stroke="#b97c12" stroke-width="0.4"/>
<path transform="translate(564.0 542.1) rotate(-90)" d="M3.2 0 Q0.3 -1.7 -1.8 -1.7 Q-3.2 -1.2 -3.2 0 Q-3.2 1.2 -1.8 1.7 Q0.3 1.7 3.2 0Z" fill="#f6a81e" stroke="#b97c12" stroke-width="0.4"/>
<path transform="translate(557.8 535.5) rotate(-69)" d="M3.2 0 Q0.3 -1.7 -1.8 -1.7 Q-3.2 -1.2 -3.2 0 Q-3.2 1.2 -1.8 1.7 Q0.3 1.7 3.2 0Z" fill="#f6a81e" stroke="#b97c12" stroke-width="0.4"/>
<path transform="translate(555.2 519.6) rotate(0)" d="M3.2 0 Q0.3 -1.7 -1.8 -1.7 Q-3.2 -1.2 -3.2 0 Q-3.2 1.2 -1.8 1.7 Q0.3 1.7 3.2 0Z" fill="#f6a81e" stroke="#b97c12" stroke-width="0.4"/>
<path transform="translate(557.8 503.7) rotate(69)" d="M3.2 0 Q0.3 -1.7 -1.8 -1.7 Q-3.2 -1.2 -3.2 0 Q-3.2 1.2 -1.8 1.7 Q0.3 1.7 3.2 0Z" fill="#f6a81e" stroke="#b97c12" stroke-width="0.4"/>
<path transform="translate(564.0 497.1) rotate(90)" d="M3.2 0 Q0.3 -1.7 -1.8 -1.7 Q-3.2 -1.2 -3.2 0 Q-3.2 1.2 -1.8 1.7 Q0.3 1.7 3.2 0Z" fill="#f6a81e" stroke="#b97c12" stroke-width="0.4"/>
<path transform="translate(570.2 503.7) rotate(111)" d="M3.2 0 Q0.3 -1.7 -1.8 -1.7 Q-3.2 -1.2 -3.2 0 Q-3.2 1.2 -1.8 1.7 Q0.3 1.7 3.2 0Z" fill="#f6a81e" stroke="#b97c12" stroke-width="0.4"/>
</g>
<path id="trunkP" d="M362.2 453.3 C360 520 357.5 600 360.4 700 L360.2 745 A61.6 36 0 0 0 483.3 745 L483.3 700 C482.5 600 481 520 480.2 453.3Z" fill="url(#trunkG)"/>
<path d="M362.2 453.3 C360 520 357.5 600 360.4 700 L360.2 745 A61.6 36 0 0 0 483.3 745 L483.3 700 C482.5 600 481 520 480.2 453.3Z" fill="url(#vstr)"/>
<path d="M452.3 466 L469.3 453 L469.6 777.3 Q461 779.5 452.6 777.8Z" fill="#aeb0ac" fill-opacity="0.82"/>
<path d="M455.6 464 V778 M459.2 461 V778.6 M462.8 458.5 V778.6 M466.2 456 V778" stroke="#c9ccc6" stroke-width="1" stroke-opacity="0.8" fill="none"/>
<path d="M469.3 617 L482.5 607.4 L482.5 621.6 L469.3 631.2Z" fill="#aeb0ac" fill-opacity="0.82"/>
<path d="M469.3 621.6 L482.5 612 M469.3 626.2 L482.5 616.6" stroke="#c9ccc6" stroke-width="1" stroke-opacity="0.8" fill="none"/>
<ellipse cx="421.2" cy="453.3" rx="59" ry="27" fill="#4f9e43" stroke="#418b3a" stroke-width="0.8"/>
<ellipse cx="421" cy="451.8" rx="45" ry="20" fill="#ebe9db"/>
<path d="M452.3 466.3 L469.3 453.2 L469.3 471 Q461 475.3 452.3 477.6Z" fill="#aeb0ac" fill-opacity="0.82"/>
<path d="M455.6 464 V476.6 M459.2 461 V475.4 M462.8 458.5 V474 M466.2 456 V472.6" stroke="#c9ccc6" stroke-width="1" stroke-opacity="0.8" fill="none"/>
<path transform="translate(421.4 434.1) rotate(90)" d="M6.5 0 Q0.7 -3.1 -3.6 -3.1 Q-6.5 -2.2 -6.5 0 Q-6.5 2.2 -3.6 3.1 Q0.7 3.1 6.5 0Z" fill="#f6a81e" stroke="#b97c12" stroke-width="0.4"/>
<path transform="translate(393.6 437.3) rotate(38)" d="M6.5 0 Q0.7 -3.1 -3.6 -3.1 Q-6.5 -2.2 -6.5 0 Q-6.5 2.2 -3.6 3.1 Q0.7 3.1 6.5 0Z" fill="#f6a81e" stroke="#b97c12" stroke-width="0.4"/>
<path transform="translate(379.0 450.6) rotate(0)" d="M6.5 0 Q0.7 -3.1 -3.6 -3.1 Q-6.5 -2.2 -6.5 0 Q-6.5 2.2 -3.6 3.1 Q0.7 3.1 6.5 0Z" fill="#f6a81e" stroke="#b97c12" stroke-width="0.4"/>
<path transform="translate(394.7 465.5) rotate(-40)" d="M6.5 0 Q0.7 -3.1 -3.6 -3.1 Q-6.5 -2.2 -6.5 0 Q-6.5 2.2 -3.6 3.1 Q0.7 3.1 6.5 0Z" fill="#f6a81e" stroke="#b97c12" stroke-width="0.4"/>
<path transform="translate(420.9 467.9) rotate(-90)" d="M6.5 0 Q0.7 -3.1 -3.6 -3.1 Q-6.5 -2.2 -6.5 0 Q-6.5 2.2 -3.6 3.1 Q0.7 3.1 6.5 0Z" fill="#f6a81e" stroke="#b97c12" stroke-width="0.4"/>
<path transform="translate(441.8 467.1) rotate(-128)" d="M6.5 0 Q0.7 -3.1 -3.6 -3.1 Q-6.5 -2.2 -6.5 0 Q-6.5 2.2 -3.6 3.1 Q0.7 3.1 6.5 0Z" fill="#f6a81e" stroke="#b97c12" stroke-width="0.4"/>
<path transform="translate(460.6 452.2) rotate(180)" d="M6.5 0 Q0.7 -3.1 -3.6 -3.1 Q-6.5 -2.2 -6.5 0 Q-6.5 2.2 -3.6 3.1 Q0.7 3.1 6.5 0Z" fill="#f6a81e" stroke="#b97c12" stroke-width="0.4"/>
<path transform="translate(446.5 436.9) rotate(140)" d="M6.5 0 Q0.7 -3.1 -3.6 -3.1 Q-6.5 -2.2 -6.5 0 Q-6.5 2.2 -3.6 3.1 Q0.7 3.1 6.5 0Z" fill="#f6a81e" stroke="#b97c12" stroke-width="0.4"/>
<g fill="none" stroke="#111" stroke-width="3.3" stroke-linecap="butt">
<path d="M463 452 C460 425 455 408 445.3 392.8"/>
<path d="M442.8 389 L433.6 376.4" marker-end="url(#ah)"/>
<path d="M468.6 452 C471 428 476 410 485.2 394.2"/>
<path d="M490.6 386.4 L502.8 369.6" marker-end="url(#ah)" marker-start="url(#ah)"/>
<path d="M563.4 541.4 C578 535.5 587.5 527.5 593.8 516.2"/>
<path d="M596 512 L605.4 498.6" marker-end="url(#ah)"/>
<path d="M563.6 543.4 C578 539 590 538 604 538.7"/>
<path d="M612.5 539.3 L634.5 543" marker-end="url(#ah)" marker-start="url(#ah)"/>
<path d="M457.5 783.3 C455.5 805 449.5 825 439.6 841.4"/>
<path d="M424.6 862.8 L433.6 849" marker-end="url(#ah)"/>
<path d="M463.3 783.3 C465 805 470.5 825 480.4 841.2"/>
<path d="M483 848.6 L492.6 862" marker-end="url(#ah)"/>
</g>
<text class="l" x="392.6" y="358">Xylem</text>
<text class="l" x="484.2" y="358">Phloem</text>
<text class="l" x="600.5" y="487.5">Xylem</text>
<text class="l" x="598" y="564.5">Phloem</text>
<text class="l" x="377" y="831.6">Xylem</text>
<text class="l" x="487.4" y="839.2">Phloem</text>
</g>

<!-- e -->
<g id="panelE">
<text class="b" x="710.2" y="360.8">E</text>
<g fill="none" stroke="#1a1a1a" stroke-width="1.25" stroke-linecap="round" stroke-linejoin="round">
 <!-- PEDOT:S-H chain -->
 <path d="M786.6 361.6 L779.1 375.4 L792.5 399 L779.1 422.2 L792.5 446.1 L784.6 460.6"/>
 <path d="M784.2 478.4 L793.7 492.6 L780.5 515 L751.1 515 L743.9 529.6"/>
 <path d="M780.5 515 L787.6 529.6"/>
 <path d="M743.7 550.4 L752.2 564 L779.9 564 L787.3 550.4"/>
 <path d="M752.2 564 L743.7 589.5 L757.3 601"/>
 <path d="M779.9 564 L787.3 589.5 L773.8 601"/>
 <path d="M755.8 568.2 L749.4 586.3 M776.3 568.2 L782 586.3"/>
 <path d="M787.3 589.5 L814 597"/>
 <path d="M732.2 580.2 Q722.6 594.6 732.2 609"/>
 <path d="M800 580.2 Q809.6 594.6 800 609"/>
 <!-- PEDOT -->
 <path d="M738.2 682.6 L748 665.4 L779.1 665.4 L789 682.6"/>
 <path d="M738.4 701 L749.5 717.7 L779.1 717.7 L789.8 701"/>
 <path d="M749.5 717.7 L739.6 747.4 L755.3 760"/>
 <path d="M779.1 717.7 L787.6 747.4 L772 760"/>
 <path d="M753.7 723.4 L745.8 746 M774.9 723.4 L782 746"/>
 <path d="M739.6 747.4 L710.7 755.3 M787.6 747.4 L816.4 755.3"/>
 <path d="M726.2 731.9 H722.6 V770.6 H726.2 M802.4 731.9 H806 V770.6 H802.4" stroke-linejoin="miter" stroke-linecap="butt"/>
 <!-- PSS -->
 <path d="M835.1 755.3 L861.7 741.2 L887.1 755.3 L912 742.3"/>
 <path d="M850 731 H846.4 V768.6 H850 M897.6 731 H901.2 V768.6 H897.6" stroke-linejoin="miter" stroke-linecap="butt"/>
 <path d="M887.1 755.3 V787"/>
 <path d="M887.1 787 L912.5 801.7 L912.5 832.2 L887.1 847.7 L861.1 832.2 L861.1 801.7Z"/>
 <path d="M866.2 805.2 L886.5 793.4 M907.6 805 V829 M866.2 828.8 L886.5 841"/>
 <path d="M889.4 820.9 L907.7 850.6"/>
</g>
<g class="ch" text-anchor="middle">
 <text x="779" y="476.2">O</text>
 <text x="738.3" y="547.1">O</text>
 <text x="792.7" y="547.1">O</text>
 <text x="765.6" y="612.2">S</text>
 <text x="733.4" y="698.9">O</text>
 <text x="794.1" y="698.9">O</text>
 <text x="763.6" y="772.4">S</text>
</g>
<text class="ch" x="786.3" y="358.5">SO<tspan font-size="13" dy="3.5">3</tspan><tspan dy="-3.5">H</tspan></text>
<text class="ch" x="805.5" y="619.4">n</text>
<text class="ch" x="904.6" y="864.7">SO<tspan font-size="13" dy="3.8">3</tspan></text>
<path d="M937 850.4 H944" stroke="#1a1a1a" stroke-width="1.2" fill="none"/>
<text class="l" x="805.3" y="438.6">PEDOT:S-H</text>
<text class="l" x="820" y="693.7">PEDOT:PSS</text>
</g>


</svg>
</body></html>
